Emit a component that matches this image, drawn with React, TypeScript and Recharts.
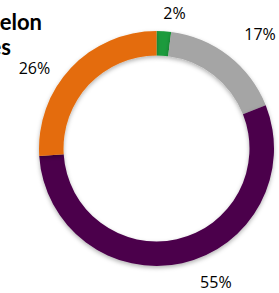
import React from "react";
import { PieChart, Pie, Cell } from "recharts";

const categories = ["Green", "Gray", "Purple", "Orange"];
const values = [2, 17, 55, 26];
const labels = ["2%", "17%", "55%", "26%"];
const colors = ["#1e9b3c", "#a5a5a5", "#4b004b", "#e46c0a"];
const titleLines = ["Watermelon", "Varieties"];

// label placement tweaks (degrees of angle shift, extra radius beyond the ring)
const labelAngleShift = [-4, -4.3, 11.3, 9.9];
const labelExtraRadius = [19, 37, 29, 28.5];

const data = categories.map((name, i) => ({ name, value: values[i], label: labels[i] }));

const RAD = Math.PI / 180;

const renderLabel = (props: any) => {
  const { cx, cy, midAngle, outerRadius, index } = props;
  const r = outerRadius + labelExtraRadius[index];
  const a = midAngle + labelAngleShift[index];
  const x = cx + r * Math.cos(-a * RAD);
  const y = cy + r * Math.sin(-a * RAD);
  return (
    <text
      x={x}
      y={y}
      textAnchor="middle"
      dominantBaseline="central"
      fill="#000"
      fontSize={16}
      fontFamily="'Open Sans', sans-serif"
    >
      {labels[index]}
    </text>
  );
};

export default function App() {
  return (
    <div style={{ position: "absolute", left: 0, top: 0, background: "#fff" }}>
      <PieChart width={279} height={293} margin={{ top: 0, right: 0, bottom: 0, left: 0 }}>
        <defs>
          <filter id="ringShadow" x="-20%" y="-20%" width="140%" height="140%">
            <feDropShadow dx="0" dy="2" stdDeviation="2" floodColor="#000" floodOpacity="0.3" />
          </filter>
        </defs>
        <text
          x={42}
          y={30}
          textAnchor="end"
          fontSize={22}
          fontWeight="bold"
          fontFamily="Lato, sans-serif"
          fill="#000"
        >
          {titleLines[0]}
        </text>
        <text
          x={11}
          y={55}
          textAnchor="end"
          fontSize={22}
          fontWeight="bold"
          fontFamily="Lato, sans-serif"
          fill="#000"
        >
          {titleLines[1]}
        </text>
        <Pie
          data={data}
          dataKey="value"
          nameKey="name"
          cx={156.5}
          cy={148.5}
          innerRadius={93}
          outerRadius={117.5}
          startAngle={90}
          endAngle={-270}
          stroke="none"
          paddingAngle={0}
          label={renderLabel}
          labelLine={false}
          isAnimationActive={false}
          style={{ filter: "url(#ringShadow)" }}
        >
          {data.map((d, i) => (
            <Cell key={d.name} fill={colors[i]} />
          ))}
        </Pie>
      </PieChart>
    </div>
  );
}
